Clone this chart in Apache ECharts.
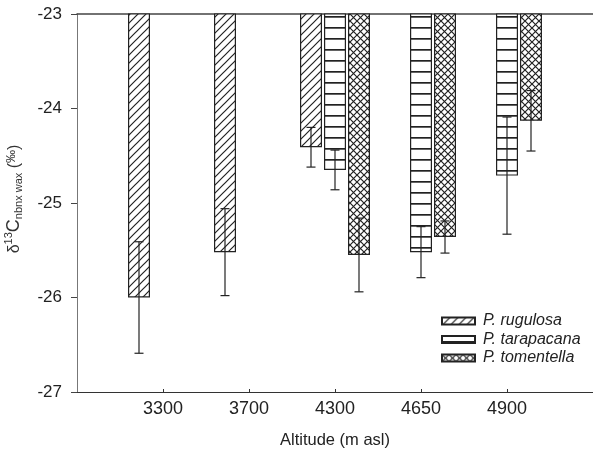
<!DOCTYPE html>
<html>
<head>
<meta charset="utf-8">
<script src="https://cdn.jsdelivr.net/npm/echarts@6/dist/echarts.min.js"></script>
<style>
  html, body { margin: 0; padding: 0; background: #fff; }
  #chart { width: 593px; height: 450px; }
</style>
</head>
<body>
<div id="chart"></div>
<script>
// altitude groups (m asl)
const categories = ['3300', '3700', '4300', '4650', '4900']
const speciesNames = ['P. rugulosa', 'P. tarapacana', 'P. tomentella']

// mean d13C per species, null = not sampled
const rugulosaMean = [-26.0, -25.52, -24.41, null, null]
const tarapacanaMean = [null, null, -24.65, -25.52, -24.71]
const tomentellaMean = [null, null, -25.55, -25.36, -24.13]

// error (one side)
const rugulosaErr = [0.59, 0.46, 0.21, null, null]
const tarapacanaErr = [null, null, 0.21, 0.27, 0.62]
const tomentellaErr = [null, null, 0.39, 0.17, 0.32]

const yTicks = [-27, -26, -25, -24, -23]

const BAR_W = 22
const BAR_GAP = 2

function makeTile(w, h, draw) {
  const c = document.createElement('canvas')
  c.width = w
  c.height = h
  const ctx = c.getContext('2d')
  ctx.fillStyle = '#fff'
  ctx.fillRect(0, 0, w, h)
  ctx.strokeStyle = '#222'
  ctx.fillStyle = '#222'
  draw(ctx)
  return { image: c, repeat: 'repeat' }
}

const patterns = [
  // diagonal ////
  makeTile(8, 8, function (ctx) {
    ctx.lineWidth = 1.2
    ctx.beginPath()
    ctx.moveTo(0, 8); ctx.lineTo(8, 0)
    ctx.moveTo(-1, 1); ctx.lineTo(1, -1)
    ctx.moveTo(7, 9); ctx.lineTo(9, 7)
    ctx.stroke()
  }),
  // horizontal lines
  makeTile(4, 11, function (ctx) {
    ctx.fillRect(0, 5, 4, 1.7)
  }),
  // cross hatch
  makeTile(7, 7, function (ctx) {
    ctx.lineWidth = 1.2
    ctx.beginPath()
    ctx.moveTo(0, 7); ctx.lineTo(7, 0)
    ctx.moveTo(0, 0); ctx.lineTo(7, 7)
    ctx.stroke()
  })
]

const means = [rugulosaMean, tarapacanaMean, tomentellaMean]
const errs = [rugulosaErr, tarapacanaErr, tomentellaErr]

const chart = echarts.init(document.getElementById('chart'))

const series = []
means.forEach((arr, s) => {
  const data = []
  arr.forEach((v, i) => {
    if (v !== null) data.push([i + 1, v])
  })
  series.push({
    name: speciesNames[s],
    type: 'bar',
    data: data,
    barWidth: BAR_W,
    barGap: (BAR_GAP / BAR_W * 100) + '%',
    itemStyle: {
      color: patterns[s],
      borderColor: '#222',
      borderWidth: 1.2
    },
    emphasis: { disabled: true },
    z: 2
  })
})

// error bars
means.forEach((arr, s) => {
  const data = []
  arr.forEach((v, i) => {
    if (v !== null) data.push([i + 1, v, errs[s][i]])
  })
  series.push({
    type: 'custom',
    name: speciesNames[s] + ' err',
    data: data,
    z: 3,
    renderItem: function (params, api) {
      const x = api.value(0)
      const m = api.value(1)
      const e = api.value(2)
      const hi = api.coord([x, m + e])
      const lo = api.coord([x, m - e])
      const off = (s - 1) * (BAR_W + BAR_GAP)
      const cx = hi[0] + off
      const hw = 4.5
      const style = { stroke: '#222', lineWidth: 1.2 }
      return {
        type: 'group',
        children: [
          { type: 'line', shape: { x1: cx, y1: hi[1], x2: cx, y2: lo[1] }, style: style },
          { type: 'line', shape: { x1: cx - hw, y1: hi[1], x2: cx + hw, y2: hi[1] }, style: style },
          { type: 'line', shape: { x1: cx - hw, y1: lo[1], x2: cx + hw, y2: lo[1] }, style: style }
        ]
      }
    }
  })
})

chart.setOption({
  animation: false,
  backgroundColor: '#fff',
  textStyle: { fontFamily: 'Liberation Sans, Arial, sans-serif' },
  grid: { left: 77, right: 0, top: 14, bottom: 58, outerBoundsMode: 'none' },
  legend: {
    data: speciesNames,
    orient: 'vertical',
    left: 441,
    top: 313,
    padding: 0,
    itemWidth: 33,
    itemHeight: 7,
    itemGap: 2.5,
    icon: 'rect',
    textStyle: { fontSize: 16, lineHeight: 16, fontStyle: 'italic', color: '#222', padding: [0, 0, 0, 3] }
  },
  xAxis: [
    {
      type: 'value',
      min: 0,
      max: categories.length + 1,
      interval: 1,
      splitLine: { show: false },
      axisLine: { lineStyle: { color: '#333', width: 1.2 } },
      axisTick: {
        inside: true,
        length: 3,
        customValues: categories.map((c, i) => i + 1),
        lineStyle: { color: '#333' }
      },
      axisLabel: {
        customValues: categories.map((c, i) => i + 1),
        formatter: function (v) { return categories[v - 1] || '' },
        fontSize: 18,
        color: '#222',
        margin: 8
      },
      name: 'Altitude (m asl)',
      nameLocation: 'middle',
      nameGap: 40,
      nameTextStyle: { fontSize: 16.5, color: '#222' }
    },
    {
      type: 'value',
      position: 'top',
      min: 0,
      max: categories.length + 1,
      axisLine: { show: true, lineStyle: { color: '#444', width: 1.5 } },
      axisTick: { show: false },
      axisLabel: { show: false },
      splitLine: { show: false }
    }
  ],
  yAxis: {
    type: 'value',
    min: yTicks[0],
    max: yTicks[yTicks.length - 1],
    interval: 1,
    splitLine: { show: false },
    axisLine: { show: true, lineStyle: { color: '#777', width: 1 } },
    axisTick: { show: true, length: 6, lineStyle: { color: '#444' } },
    axisLabel: { fontSize: 17, color: '#222', margin: 15 },
    name: '{a|δ}{sup|13}{c|C}{sub|nbnx wax}{a| (}{sub2|‰}{a|)}',
    nameLocation: 'middle',
    nameGap: 40,
    nameTextStyle: {
      padding: [0, 0, 0, 8],
      rich: {
        a: { fontSize: 16, color: '#333', lineHeight: 24, verticalAlign: 'middle' },
        c: { fontSize: 18, color: '#333', lineHeight: 24, verticalAlign: 'middle' },
        sup: { fontSize: 11, color: '#333', lineHeight: 24, verticalAlign: 'top', padding: [1, 0, 0, 0] },
        sub: { fontSize: 11, color: '#333', lineHeight: 24, verticalAlign: 'bottom', padding: [0, 0, 2, 0] },
        sub2: { fontSize: 13, color: '#333', lineHeight: 24, verticalAlign: 'top', padding: [2, 0, 0, 0] }
      }
    }
  },
  series: series
})
</script>
</body>
</html>
